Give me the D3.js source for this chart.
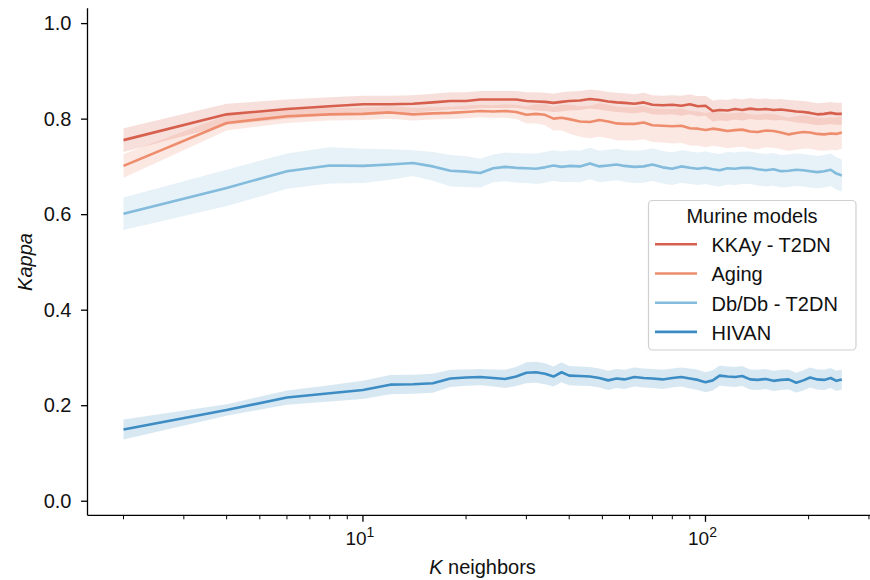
<!DOCTYPE html>
<html>
<head>
<meta charset="utf-8">
<script src="https://cdn.jsdelivr.net/npm/d3@7"></script>
<style>
  html, body { margin: 0; padding: 0; background: #fff; }
  svg text { font-family: "Liberation Sans", Arial, sans-serif; fill: #111; }
</style>
</head>
<body>
<svg id="chart" width="870" height="580"></svg>
<script>
// ---------------- data ----------------
const kValues = [2,4,6,8,10,12,14,16,18,20,22,24,26,28,30,32,34,36,38,40,43,46,49,52,55,58,62,66,70,75,80,85,90,95,100,105,110,116,122,128,135,142,150,158,166,175,184,193,202,212,222,232,241,250];

const seriesNames = ["KKAy - T2DN", "Aging", "Db/Db - T2DN", "HIVAN"];
const seriesColors = ["#d6604d", "#ee8d6d", "#82bbdb", "#3d8dc4"];

const kkayMean = [0.755,0.809,0.820,0.826,0.830,0.830,0.831,0.834,0.837,0.837,0.840,0.840,0.840,0.840,0.837,0.836,0.835,0.833,0.835,0.837,0.838,0.841,0.839,0.836,0.834,0.833,0.831,0.834,0.829,0.828,0.829,0.827,0.830,0.826,0.827,0.816,0.818,0.817,0.820,0.818,0.821,0.819,0.820,0.818,0.819,0.817,0.815,0.814,0.812,0.809,0.810,0.812,0.810,0.810];
const kkayErr  = [0.025,0.022,0.020,0.019,0.018,0.018,0.018,0.018,0.018,0.018,0.018,0.018,0.018,0.018,0.018,0.019,0.019,0.019,0.020,0.020,0.020,0.020,0.020,0.020,0.020,0.020,0.020,0.020,0.020,0.020,0.020,0.021,0.021,0.021,0.021,0.022,0.022,0.022,0.022,0.022,0.022,0.022,0.022,0.022,0.022,0.022,0.023,0.023,0.023,0.023,0.023,0.023,0.023,0.023];

const agingMean = [0.701,0.791,0.805,0.809,0.810,0.813,0.809,0.811,0.812,0.814,0.816,0.815,0.816,0.814,0.808,0.810,0.808,0.800,0.802,0.799,0.794,0.793,0.797,0.794,0.790,0.789,0.789,0.792,0.786,0.785,0.784,0.785,0.780,0.779,0.776,0.779,0.777,0.774,0.776,0.777,0.773,0.772,0.775,0.774,0.771,0.767,0.770,0.772,0.771,0.768,0.767,0.769,0.768,0.771];
const agingErr  = [0.025,0.016,0.014,0.013,0.013,0.013,0.013,0.013,0.013,0.013,0.013,0.013,0.014,0.015,0.018,0.020,0.022,0.025,0.027,0.030,0.032,0.034,0.035,0.035,0.035,0.035,0.035,0.035,0.035,0.035,0.036,0.036,0.036,0.036,0.036,0.036,0.036,0.036,0.036,0.036,0.036,0.036,0.035,0.035,0.035,0.035,0.035,0.035,0.034,0.034,0.034,0.034,0.034,0.034];

const dbdbMean = [0.601,0.655,0.690,0.702,0.701,0.704,0.707,0.700,0.691,0.689,0.686,0.696,0.699,0.697,0.696,0.695,0.698,0.702,0.699,0.701,0.700,0.706,0.700,0.702,0.704,0.701,0.699,0.700,0.704,0.698,0.695,0.700,0.697,0.695,0.697,0.694,0.692,0.696,0.695,0.697,0.697,0.694,0.692,0.694,0.690,0.691,0.693,0.692,0.690,0.688,0.690,0.693,0.685,0.681];
const dbdbErr  = [0.034,0.038,0.037,0.038,0.036,0.032,0.027,0.030,0.033,0.032,0.030,0.029,0.030,0.031,0.031,0.032,0.032,0.032,0.032,0.033,0.033,0.033,0.033,0.033,0.033,0.033,0.034,0.034,0.034,0.034,0.034,0.034,0.034,0.034,0.034,0.034,0.034,0.034,0.034,0.034,0.034,0.034,0.034,0.034,0.034,0.034,0.034,0.034,0.034,0.034,0.034,0.034,0.034,0.034];

const hivanMean = [0.149,0.190,0.216,0.225,0.232,0.243,0.244,0.246,0.256,0.258,0.259,0.257,0.255,0.260,0.268,0.269,0.266,0.260,0.269,0.262,0.261,0.260,0.257,0.252,0.256,0.254,0.259,0.257,0.256,0.254,0.257,0.259,0.256,0.253,0.248,0.252,0.262,0.260,0.259,0.261,0.254,0.253,0.255,0.251,0.253,0.254,0.247,0.252,0.258,0.254,0.253,0.257,0.251,0.254];
const hivanErr  = [0.021,0.012,0.015,0.017,0.019,0.020,0.020,0.020,0.018,0.017,0.017,0.018,0.019,0.020,0.022,0.022,0.022,0.021,0.021,0.020,0.020,0.020,0.020,0.020,0.020,0.020,0.020,0.020,0.020,0.020,0.020,0.020,0.021,0.021,0.021,0.021,0.021,0.021,0.021,0.021,0.021,0.021,0.021,0.021,0.021,0.021,0.021,0.021,0.021,0.021,0.021,0.021,0.021,0.021];

const yTicks = [0.0, 0.2, 0.4, 0.6, 0.8, 1.0];
const xMajorTicks = [10, 100];
const xMinorTicks = [2,3,4,5,6,7,8,9,20,30,40,50,60,70,80,90,200,300];
const legendTitle = "Murine models";
const xLabelItalic = "K";
const xLabelRest = " neighbors";
const yLabel = "Kappa";

// ---------------- chart ----------------
const svg = d3.select("#chart");
const means = [kkayMean, agingMean, dbdbMean, hivanMean];
const errs = [kkayErr, agingErr, dbdbErr, hivanErr];

const x = d3.scaleLog().domain([1.57, 318]).range([87.5, 877.6]);
const y = d3.scaleLinear().domain([-0.0305, 1.031]).range([515.3, 8.3]);

const series = seriesNames.map((name, i) => ({
  name, color: seriesColors[i],
  pts: kValues.map((k, j) => ({k, m: means[i][j], e: errs[i][j]}))
}));

// bands (below lines)
const area = d3.area().x(d => x(d.k)).y0(d => y(d.m - d.e)).y1(d => y(d.m + d.e));
svg.append("g").selectAll("path").data(series).join("path")
  .attr("d", d => area(d.pts))
  .attr("fill", d => d.color).attr("fill-opacity", 0.2).attr("stroke", "none");

const line = d3.line().x(d => x(d.k)).y(d => y(d.m));
svg.append("g").selectAll("path").data(series).join("path")
  .attr("d", d => line(d.pts))
  .attr("fill", "none").attr("stroke", d => d.color)
  .attr("stroke-width", 2.6).attr("stroke-linejoin", "round").attr("stroke-linecap", "butt");

// y axis
const yAxis = d3.axisLeft(y).tickValues(yTicks).tickFormat(d3.format(".1f")).tickSize(6.5).tickPadding(9.5);
const gy = svg.append("g").attr("transform", "translate(87.5,0)").call(yAxis);
gy.select(".domain").attr("d", "M0,8.3V515.3").attr("stroke", "#000").attr("stroke-width", 1.3);
gy.selectAll(".tick line").attr("stroke", "#000").attr("stroke-width", 1.3);
gy.selectAll(".tick text").attr("font-size", 20).attr("font-family", "Liberation Sans, Arial, sans-serif").attr("fill", "#111");

// x axis
const gx = svg.append("g").attr("transform", "translate(0,515.3)");
gx.append("line").attr("x1", 87.5).attr("x2", 877.6).attr("y1", 0).attr("y2", 0)
  .attr("stroke", "#000").attr("stroke-width", 1.3);
gx.selectAll("line.minor").data(xMinorTicks).join("line").attr("class", "minor")
  .attr("x1", d => x(d)).attr("x2", d => x(d)).attr("y1", 0).attr("y2", 4)
  .attr("stroke", "#000").attr("stroke-width", 1);
gx.selectAll("line.major").data(xMajorTicks).join("line").attr("class", "major")
  .attr("x1", d => x(d)).attr("x2", d => x(d)).attr("y1", 0).attr("y2", 6.5)
  .attr("stroke", "#000").attr("stroke-width", 1.3);
const xt = gx.selectAll("text.major").data(xMajorTicks).join("text").attr("class", "major")
  .attr("x", d => x(d) - 3).attr("y", 29.7).attr("text-anchor", "middle").attr("font-size", 19);
xt.append("tspan").text("10");
xt.append("tspan").attr("dy", -8).attr("font-size", 14).text(d => String(Math.round(Math.log10(d))));

// axis labels
const xl = svg.append("text").attr("x", 482.5).attr("y", 574).attr("text-anchor", "middle").attr("font-size", 20);
xl.append("tspan").attr("font-style", "italic").text(xLabelItalic);
xl.append("tspan").text(xLabelRest);

svg.append("text").attr("transform", "translate(32,262) rotate(-90)")
  .attr("text-anchor", "middle").attr("font-size", 20).attr("font-style", "italic").text(yLabel);

// legend
const lg = svg.append("g");
lg.append("rect").attr("x", 648.5).attr("y", 200.5).attr("width", 207.5).attr("height", 149.5)
  .attr("rx", 4).attr("fill", "#fff").attr("fill-opacity", 0.8).attr("stroke", "#d0d0d0").attr("stroke-width", 1.2);
lg.append("text").attr("x", 752).attr("y", 223).attr("text-anchor", "middle").attr("font-size", 20).text(legendTitle);
const items = lg.selectAll("g.item").data(series).join("g").attr("class", "item")
  .attr("transform", (d, i) => `translate(0,${244.3 + i * 29.2})`);
items.append("line").attr("x1", 655).attr("x2", 697).attr("y1", 0).attr("y2", 0)
  .attr("stroke", d => d.color).attr("stroke-width", 2.6);
items.append("text").attr("x", 711.5).attr("y", 7.8).attr("font-size", 20).text(d => d.name);
</script>
</body>
</html>
